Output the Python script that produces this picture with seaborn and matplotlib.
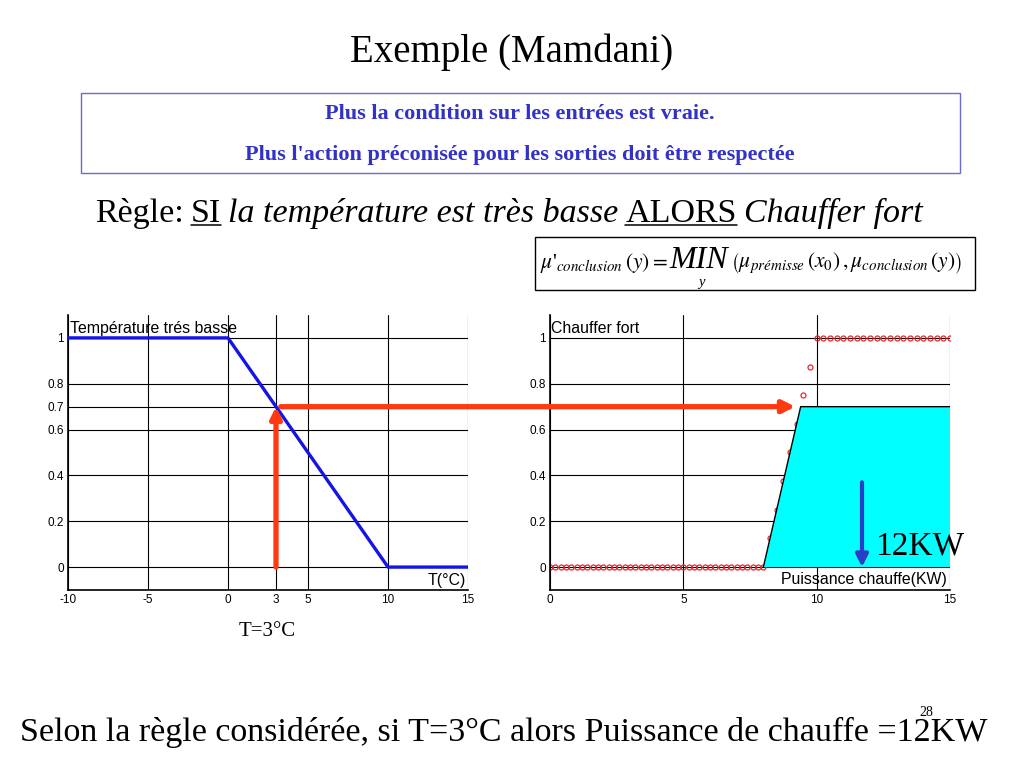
import numpy as np
import pandas as pd
import matplotlib
matplotlib.use("Agg")
import matplotlib.pyplot as plt
import seaborn as sns
from matplotlib.patches import Rectangle, ConnectionPatch
from matplotlib.lines import Line2D

# --- données ---
# fonction d'appartenance "Température très basse"
temp_x = [-10, 0, 10, 15]
temp_mu = [1.0, 1.0, 0.0, 0.0]
temp_ticks = [-10, -5, 0, 3, 5, 10, 15]
temp_mu_ticks = [0, 0.2, 0.4, 0.6, 0.7, 0.8, 1]

# "Chauffer fort" échantillonnée (cercles rouges)
chauffe_x = [0.0, 0.2, 0.4, 0.6, 0.8, 1.0, 1.2, 1.4, 1.6, 1.8,
             2.0, 2.2, 2.4, 2.6, 2.8, 3.0, 3.2, 3.4, 3.6, 3.8,
             4.0, 4.2, 4.4, 4.6, 4.8, 5.0, 5.2, 5.4, 5.6, 5.8,
             6.0, 6.2, 6.4, 6.6, 6.8, 7.0, 7.2, 7.4, 7.6, 7.8,
             8.0, 8.25, 8.5, 8.75, 9.0, 9.25, 9.5, 9.75,
             10.0, 10.25, 10.5, 10.75, 11.0, 11.25, 11.5, 11.75, 12.0, 12.25,
             12.5, 12.75, 13.0, 13.25, 13.5, 13.75, 14.0, 14.25, 14.5, 14.75, 15.0]
chauffe_mu = [0.0] * 40 + [0.0, 0.125, 0.25, 0.375, 0.5, 0.625, 0.75, 0.875] + [1.0] * 21
chauffe_ticks = [0, 5, 10, 15]
chauffe_mu_ticks = [0, 0.2, 0.4, 0.6, 0.8, 1]

# conclusion tronquée (zone cyan)
result_x = [8.0, 9.4, 15.0, 15.0]
result_mu = [0.0, 0.7, 0.7, 0.0]

t0 = 3
mu_premisse = 0.7
puissance = 11.7

W, H = 1024, 768
ROUGE = "#ff3a10"
SERIF = ["Liberation Serif", "DejaVu Serif"]
SANS = ["Liberation Sans", "DejaVu Sans"]

sns.set_theme(style="white")
plt.rcParams["font.family"] = SANS
plt.rcParams["mathtext.fontset"] = "stix"
plt.rcParams["text.color"] = "black"
plt.rcParams["xtick.color"] = "black"
plt.rcParams["ytick.color"] = "black"

fig = plt.figure(figsize=(W / 100, H / 100), dpi=100)
fig.patch.set_facecolor("white")

ax1 = fig.add_axes([68 / W, 1 - 590 / H, 400 / W, 275 / H])
ax2 = fig.add_axes([550 / W, 1 - 590 / H, 400 / W, 275 / H])

for ax, ticks, yticks in ((ax1, temp_ticks, temp_mu_ticks), (ax2, chauffe_ticks, chauffe_mu_ticks)):
    ax.set_xlim(ticks[0], ticks[-1])
    ax.set_ylim(-0.1, 1.1)
    ax.set_xticks(ticks)
    ax.set_xticklabels([f"{v:g}" for v in ticks])
    ax.set_yticks(yticks)
    ax.set_yticklabels([f"{v:g}" for v in yticks])
    ax.tick_params(length=0, labelsize=8.5, colors="black", pad=3)
    ax.grid(True, color="black", lw=0.8)
    ax.set_axisbelow(True)
    for s in ("top", "right"):
        ax.spines[s].set_visible(False)
    for s in ("left", "bottom"):
        ax.spines[s].set_color("black")
        ax.spines[s].set_linewidth(1.2)
    ax.set_facecolor("white")

# gauche
df_t = pd.DataFrame({"T": temp_x, "mu": temp_mu})
sns.lineplot(data=df_t, x="T", y="mu", ax=ax1, color="#1414e6", lw=2.4, zorder=3)
ax1.set_xlabel("")
ax1.set_ylabel("")
ax1.text(-9.9, 1.02, "Température trés basse", fontsize=11.4, va="baseline", ha="left")
ax1.text(14.9, -0.08, "T(°C)", fontsize=11.4, va="baseline", ha="right")
ax1.annotate("", xy=(t0, mu_premisse), xytext=(t0, 0),
             arrowprops=dict(arrowstyle="-|>", color=ROUGE, lw=3.8,
                             mutation_scale=16, shrinkA=0, shrinkB=0), zorder=5)

# droite
df_c = pd.DataFrame({"P": chauffe_x, "mu": chauffe_mu})
sns.lineplot(data=df_c, x="P", y="mu", ax=ax2, linestyle="none", marker="o",
             markersize=3.6, mfc="none", mec="#e8282c", mew=0.9, zorder=2)
ax2.fill(result_x, result_mu, facecolor="#00ffff", edgecolor="none", zorder=3)
ax2.plot(result_x[:3], result_mu[:3], color="black", lw=1.0, zorder=4)
ax2.set_xlabel("")
ax2.set_ylabel("")
ax2.text(0.05, 1.02, "Chauffer fort", fontsize=11.4, va="baseline", ha="left")
ax2.text(14.9, -0.075, "Puissance chauffe(KW)", fontsize=11.4, va="baseline", ha="right")
ax2.annotate("", xy=(puissance, 0), xytext=(puissance, 0.37),
             arrowprops=dict(arrowstyle="-|>", color="#2a3cc8", lw=3.0,
                             mutation_scale=18, shrinkA=0, shrinkB=0), zorder=5)
ax2.text(12.2, 0.055, "12KW", fontsize=24, family=SERIF, va="baseline", ha="left",
         clip_on=False, zorder=6)

con = ConnectionPatch(xyA=(3.3, mu_premisse), coordsA=ax1.transData,
                      xyB=(9.2, mu_premisse), coordsB=ax2.transData,
                      arrowstyle="-|>", color=ROUGE, lw=3.8, mutation_scale=18,
                      shrinkA=0, shrinkB=0, zorder=6)
fig.add_artist(con)

# --- textes de la diapositive ---
def ft(x, y, s, **kw):
    return fig.text(x / W, 1 - y / H, s, **kw)

ft(512, 52, "Exemple (Mamdani)", fontsize=28, family=SERIF, ha="center", va="center")

fig.add_artist(Rectangle((81 / W, 1 - 173 / H), 879 / W, 80 / H, transform=fig.transFigure,
                         fill=False, edgecolor="#6a6ad0", lw=1.0))
ft(520, 114, "Plus la condition sur les entrées est vraie.", fontsize=16, family=SERIF,
   weight="bold", color="#3232c8", ha="center", va="center")
ft(520, 155, "Plus l'action préconisée pour les sorties doit être respectée", fontsize=16,
   family=SERIF, weight="bold", color="#3232c8", ha="center", va="center")

renderer = fig.canvas.get_renderer()


def suite(morceaux, x_px, y_px):
    x = x_px
    for txt, kw, souligne, gap in morceaux:
        t = ft(x, y_px, txt, va="baseline", ha="left", **kw)
        bb = t.get_window_extent(renderer=renderer)
        if souligne:
            fig.add_artist(Line2D([bb.x0 / W, bb.x1 / W], [(H - y_px - 3) / H] * 2,
                                  transform=fig.transFigure, color="black", lw=1.1))
        x = bb.x1 + gap
    return x


regle = dict(fontsize=24.5, family=SERIF)
regle_it = dict(fontsize=24.5, family=SERIF, style="italic")
sp = 7
suite([("Règle:", regle, False, sp),
       ("SI", regle, True, sp),
       ("la température est très basse", regle_it, False, sp),
       ("ALORS", regle, True, sp),
       ("Chauffer fort", regle_it, False, 0)], 95, 222)

fig.add_artist(Rectangle((535 / W, 1 - 290 / H), 440 / W, 53 / H, transform=fig.transFigure,
                         fill=False, edgecolor="black", lw=1.0))
xm = suite([(r"$\mu$'$_{conclusion}\,(y) =$", dict(fontsize=15.5, family=SERIF), False, 2),
            ("MIN", dict(fontsize=23, family=SERIF, style="italic"), False, 3)], 540, 268)
ft(xm - 30, 283, "y", fontsize=10.5, family=SERIF, style="italic", ha="center", va="center")
suite([(r"$\left(\mu_{prémisse}\,(x_0)\,,\mu_{conclusion}\,(y)\right)$",
        dict(fontsize=15.5, family=SERIF), False, 0)], xm, 268)

ft(267, 632, "T=3°C", fontsize=15, family=SERIF, ha="center", va="center")
ft(504, 732, "Selon la règle considérée, si T=3°C alors Puissance de chauffe =12KW",
   fontsize=24.5, family=SERIF, ha="center", va="center")
ft(926, 713, "28", fontsize=10, family=SERIF, ha="center", va="center")

fig.savefig("out.png", dpi=100, facecolor="white")
